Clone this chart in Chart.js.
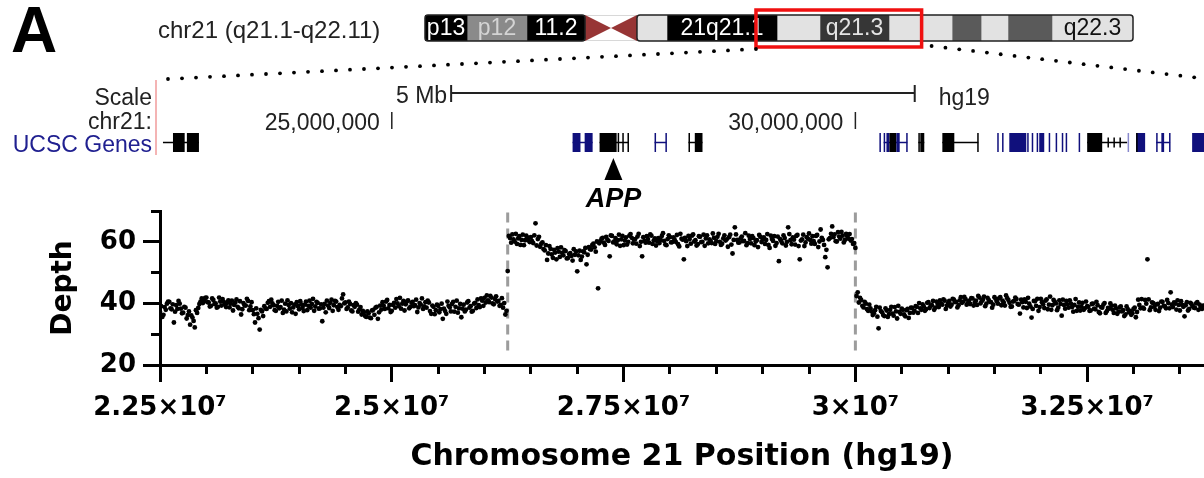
<!DOCTYPE html>
<html>
<head>
<meta charset="utf-8">
<script src="https://cdn.jsdelivr.net/npm/chart.js@4.4.1/dist/chart.umd.min.js"></script>
<style>
  html, body { margin: 0; padding: 0; background: #fff; }
  #wrap { position: relative; width: 1204px; height: 478px; overflow: hidden; background: #fff; }
  #depthChart, #ideoChart { position: absolute; left: 0; top: 0; }
  #ideoChart { pointer-events: none; }
</style>
</head>
<body>
<div id="wrap">
  <canvas id="depthChart" width="1204" height="478"></canvas>
  <canvas id="ideoChart" width="1204" height="90"></canvas>
</div>
<script>
// ==============================
// DATA
// ==============================
// read depth per window; two interleaved window sets, 25 kb apart each
const binStart = 22500000;
const binSize = 25000;
const binOffset = 12500; // second set sits half a window later

// 22.5 - 26.25 Mb (normal copy number)
const depthLeft = [
  37.2, 35.6, 38.8, 39.9, 40.5, 38.1, 33.8, 39.4, 40.8, 38.3,
  37.0, 38.6, 36.2, 33.1, 35.4, 32.2, 36.9, 39.8, 41.6, 40.7,
  41.9, 40.3, 39.2, 41.1, 40.0, 38.9, 40.6, 41.4, 39.6, 40.2,
  38.7, 40.9, 39.5, 41.3, 38.4, 36.4, 40.1, 39.3, 40.8, 39.0,
  37.8, 33.8, 36.6, 31.5, 37.4, 39.1, 38.2, 40.7, 41.2, 39.4,
  37.6, 40.5, 38.8, 36.9, 39.9, 41.0, 38.3, 37.1, 39.6, 40.4,
  38.1, 39.7, 37.5, 40.6, 39.2, 38.6, 41.5, 39.0, 40.2, 38.4,
  34.2, 39.8, 40.9, 38.5, 41.2, 39.4, 40.6, 37.9, 39.1, 42.9,
  40.3, 38.7, 39.8, 37.4, 38.9, 39.6, 38.0, 36.4, 37.1, 35.6,
  36.8, 35.2, 37.9, 38.6, 35.0, 39.3, 40.4, 38.2, 41.1, 39.5,
  37.6, 40.2, 41.4, 39.1, 38.3, 40.8, 39.7, 41.0, 38.9, 40.5,
  39.4, 37.2, 40.1, 41.6, 39.0, 38.6, 40.3, 36.6, 38.9, 37.8,
  39.2, 38.1, 35.0, 37.5, 40.6, 38.7, 39.8, 37.3, 40.9, 38.4,
  35.5, 39.6, 38.0, 40.7, 39.1, 37.6, 40.2, 41.3, 38.8, 40.9,
  41.8, 42.6, 40.4, 41.9, 39.7, 42.3, 40.8, 39.5, 38.6, 36.4
];
const depthLeftB = [
  39.1, 36.3, 37.9, 40.6, 38.4, 39.7, 37.3, 38.2, 39.9, 36.8,
  38.9, 35.1, 37.4, 36.1, 34.3, 37.8, 38.5, 40.6, 40.1, 41.8,
  40.4, 39.0, 41.6, 39.8, 38.6, 41.9, 39.3, 40.5, 38.8, 41.0,
  39.9, 37.7, 40.3, 38.9, 40.7, 38.1, 39.4, 41.5, 37.8, 40.4,
  36.5, 38.4, 35.2, 37.9, 35.9, 38.3, 40.2, 38.9, 40.0, 37.8,
  39.2, 38.4, 40.9, 38.0, 37.4, 39.5, 40.1, 38.7, 36.6, 39.1,
  40.7, 38.5, 39.6, 37.8, 40.9, 39.8, 37.6, 40.5, 38.3, 39.7,
  38.6, 37.1, 39.3, 40.2, 37.6, 40.8, 38.8, 39.5, 41.6, 40.0,
  38.2, 40.6, 37.7, 39.4, 40.1, 37.3, 38.8, 37.6, 35.9, 37.4,
  35.4, 37.7, 36.3, 38.9, 37.1, 38.0, 39.2, 40.6, 38.4, 37.2,
  39.5, 38.6, 40.0, 41.8, 39.9, 37.7, 40.6, 38.4, 40.2, 39.1,
  41.2, 38.7, 39.6, 38.2, 40.4, 40.9, 37.5, 39.3, 36.5, 39.6,
  37.1, 39.9, 38.3, 36.6, 39.2, 37.4, 40.5, 38.9, 37.0, 39.8,
  38.3, 37.4, 40.3, 38.6, 37.3, 39.9, 38.5, 39.4, 41.6, 39.2,
  40.3, 41.0, 42.4, 40.0, 41.4, 40.6, 39.2, 41.7, 40.1, 37.6
];

// 26.25 - 30.0 Mb (duplicated segment incl. APP)
const depthDup = [
  50.5, 61.2, 62.4, 60.1, 59.3, 61.8, 60.6, 58.9, 62.0, 60.4,
  61.5, 59.6, 66.0, 60.9, 58.4, 59.8, 57.2, 54.1, 58.6, 55.9,
  57.4, 54.3, 56.8, 58.2, 55.6, 57.0, 54.7, 56.3, 53.9, 55.8,
  50.4, 57.1, 55.2, 56.6, 52.7, 58.3, 57.5, 59.4, 56.8, 44.9,
  60.2, 61.3, 59.0, 60.7, 55.3, 61.9, 60.1, 59.2, 62.3, 60.8,
  58.9, 61.4, 60.0, 62.5, 59.5, 60.9, 61.7, 58.6, 55.3, 60.3,
  61.8, 59.7, 62.0, 60.4, 58.8, 61.2, 60.6, 62.8, 59.1, 60.9,
  61.5, 59.9, 60.7, 62.2, 58.5, 61.0, 54.3, 60.2, 61.9, 59.4,
  62.4, 60.5, 59.2, 61.6, 60.0, 58.7, 62.1, 60.8, 59.6, 61.3,
  60.2, 62.6, 59.0, 61.1, 60.4, 58.4, 62.3, 56.2, 64.7, 60.6,
  59.8, 61.7, 60.3, 58.9, 62.0, 59.5, 61.2, 60.1, 58.3, 61.6,
  60.7, 59.3, 62.5, 58.0, 60.9, 61.8, 59.6, 53.7, 60.3, 62.1,
  58.8, 64.7, 60.5, 61.4, 59.1, 62.2, 54.3, 60.8, 58.6, 61.5,
  62.7, 59.4, 60.2, 61.9, 58.3, 64.0, 60.6, 55.0, 51.7, 61.2,
  65.0, 62.4, 60.1, 61.7, 63.2, 59.8, 62.6, 61.0, 60.4, 59.3,
  58.0
];
const depthDupB = [
  61.9, 59.7, 60.8, 62.6, 61.1, 59.0, 62.3, 60.5, 61.4, 59.9,
  60.2, 62.1, 58.8, 61.6, 59.4, 57.6, 58.9, 56.2, 57.7, 54.8,
  56.5, 57.9, 55.1, 56.4, 57.3, 54.6, 56.0, 55.4, 57.6, 56.9,
  55.6, 54.1, 56.9, 58.0, 55.8, 57.6, 59.0, 58.2, 60.1, 59.5,
  61.0, 59.7, 61.6, 60.3, 62.1, 59.8, 61.2, 60.5, 58.7, 61.9,
  60.4, 59.1, 62.0, 61.3, 60.7, 59.4, 62.6, 60.0, 61.5, 59.7,
  60.9, 62.4, 59.3, 61.1, 60.2, 59.6, 61.9, 60.3, 58.9, 62.1,
  59.8, 61.4, 60.0, 59.2, 62.6, 60.7, 61.3, 58.6, 60.9, 62.0,
  60.1, 58.8, 61.8, 59.9, 62.3, 61.1, 59.5, 60.4, 62.7, 59.3,
  61.6, 60.0, 59.4, 62.1, 60.8, 61.5, 59.1, 60.6, 62.4, 59.7,
  61.1, 60.2, 62.8, 59.6, 60.9, 61.8, 58.9, 60.5, 62.2, 59.9,
  61.4, 60.6, 59.0, 62.0, 60.3, 58.7, 61.7, 60.9, 59.5, 61.2,
  60.0, 62.5, 59.2, 60.7, 61.9, 58.6, 60.4, 62.3, 59.8, 61.0,
  60.6, 61.8, 59.3, 62.2, 60.1, 61.3, 59.0, 57.4, 60.8, 62.6,
  61.5, 60.2, 63.1, 61.0, 62.0, 60.6, 61.8, 62.5, 60.9, 59.6
];

// 30.0 - 33.75 Mb (normal copy number)
const depthRight = [
  43.6, 41.8, 39.2, 40.5, 38.1, 39.6, 37.4, 36.8, 38.9, 31.9,
  37.5, 36.2, 38.4, 35.6, 37.9, 36.7, 38.8, 35.1, 37.2, 38.3,
  36.4, 37.8, 35.3, 38.6, 37.0, 39.1, 36.9, 38.4, 39.7, 37.6,
  40.2, 38.5, 39.4, 37.9, 40.6, 38.8, 39.9, 41.3, 38.2, 40.1,
  39.0, 41.5, 40.4, 38.7, 41.0, 40.2, 42.1, 39.6, 40.8, 41.7,
  39.3, 40.9, 42.4, 40.0, 41.2, 39.1, 41.8, 40.5, 38.6, 42.0,
  40.7, 41.6, 39.4, 40.3, 42.6, 41.1, 38.9, 40.6, 41.9, 39.8,
  36.7, 40.4, 41.3, 38.5, 39.9, 35.4, 40.8, 39.2, 37.6, 41.5,
  39.7, 40.9, 38.1, 42.2, 39.4, 40.6, 37.8, 41.0, 36.0, 39.5,
  40.8, 38.6, 39.9, 37.3, 41.4, 38.9, 37.7, 40.2, 38.4, 39.1,
  37.6, 39.8, 38.3, 40.5, 37.2, 38.8, 39.6, 36.9, 38.5, 40.0,
  37.9, 39.3, 36.6, 38.7, 37.4, 35.9, 39.0, 37.1, 36.3, 38.2,
  35.5, 41.2, 38.4, 38.6, 41.1, 54.3, 37.8, 40.3, 38.9, 39.7,
  37.5, 40.6, 39.2, 38.4, 40.1, 43.6, 38.8, 39.9, 41.0, 37.7,
  39.5, 35.8, 40.4, 38.2, 39.8, 38.6, 40.0, 37.9, 38.7, 39.3
];
const depthRightB = [
  42.4, 40.3, 41.1, 38.7, 39.9, 37.6, 38.4, 36.2, 37.8, 35.7,
  38.6, 37.1, 35.9, 37.7, 36.5, 38.9, 36.0, 37.4, 39.2, 36.6,
  37.9, 35.8, 38.2, 36.9, 38.5, 37.6, 38.9, 40.1, 37.9, 39.0,
  38.1, 40.4, 39.2, 40.8, 38.6, 39.8, 41.0, 39.6, 40.9, 39.3,
  40.8, 39.6, 41.2, 40.5, 39.4, 42.0, 40.6, 41.4, 40.1, 39.8,
  41.6, 40.3, 39.5, 41.9, 40.7, 42.2, 39.9, 41.1, 40.4, 39.6,
  41.5, 39.9, 42.0, 40.9, 39.3, 41.7, 40.2, 39.0, 40.8, 41.4,
  39.6, 41.2, 38.7, 40.5, 41.8, 39.0, 38.2, 40.7, 41.5, 38.8,
  40.4, 38.5, 41.3, 39.6, 37.9, 41.1, 40.0, 38.6, 39.8, 41.2,
  38.3, 39.7, 41.0, 38.8, 39.5, 37.6, 40.3, 39.0, 37.9, 40.6,
  38.9, 37.7, 39.9, 38.1, 39.4, 36.8, 38.6, 40.1, 37.5, 38.3,
  39.2, 36.9, 38.4, 37.3, 39.0, 37.8, 36.4, 38.1, 37.6, 36.8,
  38.6, 37.2, 39.5, 41.4, 38.3, 39.9, 41.3, 38.7, 40.1, 37.9,
  39.8, 38.6, 40.5, 39.1, 41.1, 38.4, 39.6, 40.3, 38.0, 39.5,
  40.7, 38.9, 39.4, 37.7, 40.2, 39.1, 38.5, 40.4, 39.6, 38.2
];

// breakpoints of the duplication (dashed lines)
const dupBreaks = [26250000, 30000000];

const xMin = 22500000;
const xMax = 33760000;
const xMajorStep = 2500000;
const xMinorStep = 500000;
const yMin = 20;
const yMax = 70;
const yMajorStep = 20;
const yMinorStep = 10;

// chr21 ideogram bands (Mb)
const bandStart = [0, 2.86, 6.93, 10.88, 14.41, 16.45, 23.93, 26.85, 31.54, 35.83, 37.8, 39.63, 42.62];
const bandEnd = [2.86, 6.93, 10.88, 14.41, 16.45, 23.93, 26.85, 31.54, 35.83, 37.8, 39.63, 42.62, 48.13];
const bandName = ["p13", "p12", "11.2", "", "", "21q21.1", "", "q21.3", "", "", "", "", "q22.3"];
const bandColor = ["#000", "#8a8a8a", "#000", "acen", "#e2e2e2", "#000", "#e2e2e2", "#363636", "#e2e2e2", "#5a5a5a", "#e2e2e2", "#5a5a5a", "#e2e2e2"];
const bandText = ["#fff", "#d4d4d4", "#fff", "", "", "#fff", "", "#e4e4e4", "", "", "", "", "#111"];
const chromEnd = 48.13;

// UCSC genes track (Mb): intron spans, exons, strand marks
const geneSpans = [
  [22.532, 22.920, "k"], [26.950, 27.166, "b"], [27.241, 27.554, "k"],
  [27.834, 27.963, "b"], [28.200, 28.351, "k"], [30.305, 30.560, "b"],
  [30.679, 30.743, "k"], [30.938, 31.326, "k"], [32.500, 32.931, "k"],
  [33.244, 33.394, "b"]
];
const geneExons = [
  [22.640, 22.766, "k"], [22.790, 22.920, "k"],
  [26.950, 27.035, "b"], [27.080, 27.166, "b"],
  [27.241, 27.425, "k"], [27.436, 27.446, "k"], [27.486, 27.496, "k"], [27.542, 27.554, "k"],
  [27.834, 27.846, "b"], [27.951, 27.963, "b"],
  [28.200, 28.212, "k"], [28.268, 28.351, "k"],
  [30.259, 30.270, "b"], [30.305, 30.316, "b"], [30.335, 30.367, "b"], [30.367, 30.442, "k"],
  [30.442, 30.478, "b"], [30.548, 30.560, "b"],
  [30.679, 30.690, "k"], [30.700, 30.743, "k"],
  [30.938, 31.067, "k"], [31.314, 31.326, "k"],
  [31.530, 31.541, "b"], [31.582, 31.593, "b"], [31.660, 31.843, "b"], [31.853, 31.864, "b"],
  [31.902, 31.913, "b"], [31.955, 31.966, "b"], [31.983, 32.037, "b"], [32.085, 32.096, "b"],
  [32.160, 32.171, "b"], [32.226, 32.237, "b"], [32.268, 32.279, "b"], [32.408, 32.419, "b"],
  [32.500, 32.662, "k"], [32.936, 32.947, "l"],
  [33.028, 33.125, "b"], [33.028, 33.040, "k"],
  [33.244, 33.255, "b"], [33.300, 33.330, "b"], [33.383, 33.394, "b"],
  [33.632, 33.800, "b"]
];
const geneMarks = [32.727, 32.791, 32.856];
const geneColors = { k: "#000", b: "#10107c", l: "#8888cc" };
const appPos = 27.39;

const FONT = '"Liberation Sans", Arial, Helvetica, sans-serif';
const PLOT_FONT = '"DejaVu Sans", Verdana, sans-serif';

// ==============================
// HEADER (browser tracks) on the depth chart
// ==============================
const browserTracks = {
  id: "browserTracks",
  afterDraw(chart) {
    const ctx = chart.ctx;
    const sx = chart.scales.x;
    const px = (mb) => sx.getPixelForValue(mb * 1e6);

    ctx.save();
    ctx.fillStyle = "#000";
    ctx.textBaseline = "alphabetic";

    // panel letter + region label
    ctx.font = "bold 64px " + FONT;
    ctx.textAlign = "left";
    ctx.fillText("A", 11, 52);
    ctx.font = "24px " + FONT;
    ctx.fillStyle = "#222";
    ctx.fillText("chr21 (q21.1-q22.11)", 158, 38);

    // track labels
    ctx.font = "23px " + FONT;
    ctx.textAlign = "right";
    ctx.fillText("Scale", 152, 105);
    ctx.fillText("chr21:", 152, 129);
    ctx.fillStyle = "#202090";
    ctx.fillText("UCSC Genes", 152, 152);

    ctx.strokeStyle = "#f4b4b4";
    ctx.lineWidth = 2;
    ctx.beginPath();
    ctx.moveTo(156, 80);
    ctx.lineTo(156, 155);
    ctx.stroke();

    // scale bar 5 Mb
    const b0 = px(25.64), b1 = px(30.64);
    ctx.strokeStyle = "#222";
    ctx.lineWidth = 2;
    ctx.beginPath();
    ctx.moveTo(b0, 93); ctx.lineTo(b1, 93);
    ctx.moveTo(b0, 85); ctx.lineTo(b0, 102);
    ctx.moveTo(b1, 85); ctx.lineTo(b1, 102);
    ctx.stroke();
    ctx.fillStyle = "#222";
    ctx.fillText("5 Mb", b0 - 4, 103);
    ctx.textAlign = "left";
    ctx.fillText("hg19", b1 + 24, 105);

    // chr21 coordinates
    ctx.textAlign = "right";
    [25, 30].forEach((mb) => {
      const p = px(mb);
      ctx.fillText((mb * 1e6).toLocaleString("en-US"), p - 12, 130);
      ctx.lineWidth = 1.5;
      ctx.beginPath();
      ctx.moveTo(p, 112); ctx.lineTo(p, 129);
      ctx.stroke();
    });

    // genes
    const gTop = 133, gH = 19, gMid = gTop + gH / 2;
    geneSpans.forEach(([s, e, c]) => {
      ctx.strokeStyle = geneColors[c];
      ctx.lineWidth = 1.5;
      ctx.beginPath();
      ctx.moveTo(px(s), gMid); ctx.lineTo(px(e), gMid);
      ctx.stroke();
    });
    geneExons.forEach(([s, e, c]) => {
      const x0 = px(s), x1 = px(e);
      ctx.fillStyle = geneColors[c];
      ctx.fillRect(x0, gTop, Math.max(1.5, x1 - x0), gH);
    });
    ctx.strokeStyle = "#000";
    ctx.lineWidth = 1.5;
    geneMarks.forEach((m) => {
      ctx.beginPath();
      ctx.moveTo(px(m), gMid - 5); ctx.lineTo(px(m), gMid + 5);
      ctx.stroke();
    });

    // APP arrow
    const ax = px(appPos);
    ctx.fillStyle = "#000";
    ctx.beginPath();
    ctx.moveTo(ax, 158);
    ctx.lineTo(ax + 9, 180);
    ctx.lineTo(ax - 9, 180);
    ctx.closePath();
    ctx.fill();
    ctx.font = "italic bold 27px " + FONT;
    ctx.textAlign = "center";
    ctx.fillText("APP", ax, 207);

    ctx.restore();
  }
};

// ==============================
// DEPTH SCATTER
// ==============================
const depthA = depthLeft.concat(depthDup, depthRight);
const depthB = depthLeftB.concat(depthDupB, depthRightB);
const depthPoints = depthA.map((d, i) => ({ x: binStart + i * binSize, y: d }))
  .concat(depthB.map((d, i) => ({ x: binStart + binOffset + i * binSize, y: d })));

const isMultiple = (v, step) => Math.abs(v / step - Math.round(v / step)) < 1e-6;

// regular ticks on multiples of step between the scale bounds
const stepTicks = (step) => (scale) => {
  const ticks = [];
  for (let v = Math.ceil(scale.min / step) * step; v <= scale.max + 1e-9; v += step) {
    ticks.push({ value: v });
  }
  scale.ticks = ticks;
};

const tickFont = { family: PLOT_FONT, size: 26, weight: "bold" };

const depthChart = new Chart(document.getElementById("depthChart"), {
  type: "scatter",
  data: {
    datasets: [
      {
        data: depthPoints,
        pointRadius: 2.4,
        pointBackgroundColor: "#000",
        pointBorderWidth: 0,
        order: 0,
      },
      ...dupBreaks.map((b) => ({
        type: "line",
        data: [{ x: b, y: 69.5 }, { x: b, y: 24 }],
        borderColor: "#9c9c9c",
        borderWidth: 3,
        borderDash: [10, 6],
        pointRadius: 0,
        order: 1,
      })),
    ],
  },
  options: {
    responsive: false,
    animation: false,
    devicePixelRatio: 1,
    layout: { autoPadding: false, padding: { top: 211, left: 0, right: 0, bottom: 0 } },
    plugins: { legend: { display: false }, tooltip: { enabled: false } },
    scales: {
      x: {
        type: "linear",
        min: xMin,
        max: xMax,
        afterBuildTicks: stepTicks(xMinorStep),
        afterFit: (s) => { s.height = 113; },
        border: { color: "#000", width: 3 },
        grid: { drawOnChartArea: false, tickLength: 9, tickWidth: 3, tickColor: "#000" },
        ticks: {
          autoSkip: false,
          maxRotation: 0,
          padding: 19,
          color: "#000",
          font: tickFont,
          callback: (v) => isMultiple(v, xMajorStep) ? `${+(v / 1e7).toFixed(2)}×10⁷` : "",
        },
        title: {
          display: true,
          text: "Chromosome 21 Position (hg19)",
          color: "#000",
          font: { family: PLOT_FONT, size: 30, weight: "bold" },
          padding: { top: 0, bottom: 3 },
        },
      },
      xMajor: {
        type: "linear",
        axis: "x",
        position: { y: yMin },
        min: xMin,
        max: xMax,
        afterBuildTicks: stepTicks(xMajorStep),
        border: { display: false },
        grid: { drawOnChartArea: false, tickLength: 17, tickWidth: 3, tickColor: "#000" },
        ticks: { autoSkip: false, padding: 0, callback: () => "" },
      },
      y: {
        type: "linear",
        min: yMin,
        max: yMax,
        afterBuildTicks: stepTicks(yMinorStep),
        afterFit: (s) => { s.width = 160; },
        border: { color: "#000", width: 3 },
        grid: { drawOnChartArea: false, tickLength: 9, tickWidth: 3, tickColor: "#000" },
        ticks: {
          autoSkip: false,
          padding: 15,
          color: "#000",
          font: tickFont,
          callback: (v) => isMultiple(v, yMajorStep) ? String(v) : "",
        },
        title: {
          display: true,
          text: "Depth",
          color: "#000",
          font: { family: PLOT_FONT, size: 28, weight: "bold" },
          padding: { top: 47, bottom: 0 },
        },
      },
      yMajor: {
        type: "linear",
        axis: "y",
        position: { x: xMin },
        min: yMin,
        max: yMax,
        afterBuildTicks: stepTicks(yMajorStep),
        border: { display: false },
        grid: { drawOnChartArea: false, tickLength: 17, tickWidth: 3, tickColor: "#000" },
        ticks: { autoSkip: false, padding: 0, callback: () => "" },
      },
    },
  },
  plugins: [browserTracks],
});

// ==============================
// CHR21 IDEOGRAM
// ==============================
function dottedLine(ctx, x1, y1, x2, y2, gap) {
  const n = Math.max(1, Math.round(Math.hypot(x2 - x1, y2 - y1) / gap));
  for (let i = 0; i <= n; i++) {
    const t = i / n;
    ctx.beginPath();
    ctx.arc(x1 + (x2 - x1) * t, y1 + (y2 - y1) * t, 1.9, 0, Math.PI * 2);
    ctx.fill();
  }
}

const ideoDecor = {
  id: "ideoDecor",
  afterDatasetsDraw(chart) {
    const ctx = chart.ctx;
    const sx = chart.scales.x;
    const px = (mb) => sx.getPixelForValue(mb * 1e6);
    const { top, bottom } = chart.chartArea;
    const mid = (top + bottom) / 2;

    ctx.save();

    // centromere bow-tie
    const c0 = px(bandStart[3]), c1 = px(bandEnd[3]), cm = (c0 + c1) / 2;
    ctx.strokeStyle = "#d8d8d8";
    ctx.lineWidth = 1;
    ctx.beginPath();
    ctx.moveTo(c0, top + 0.5); ctx.lineTo(c1, top + 0.5);
    ctx.moveTo(c0, bottom - 0.5); ctx.lineTo(c1, bottom - 0.5);
    ctx.stroke();
    ctx.fillStyle = "#973535";
    ctx.beginPath();
    ctx.moveTo(c0, top); ctx.lineTo(cm, mid); ctx.lineTo(c0, bottom); ctx.closePath();
    ctx.moveTo(c1, top); ctx.lineTo(cm, mid); ctx.lineTo(c1, bottom); ctx.closePath();
    ctx.fill();

    // arm outlines
    ctx.strokeStyle = "#222";
    ctx.lineWidth = 1.5;
    ctx.beginPath();
    ctx.roundRect(px(0), top, c0 - px(0), bottom - top, 3);
    ctx.roundRect(c1, top, px(chromEnd) - c1, bottom - top, 3);
    ctx.stroke();

    // band labels
    ctx.font = "23px " + FONT;
    ctx.textAlign = "center";
    ctx.textBaseline = "middle";
    bandName.forEach((name, i) => {
      if (!name) return;
      const x0 = px(bandStart[i]), x1 = px(bandEnd[i]);
      ctx.save();
      ctx.beginPath();
      ctx.rect(x0, top, x1 - x0, bottom - top);
      ctx.clip();
      ctx.fillStyle = bandText[i];
      ctx.fillText(name, (x0 + x1) / 2, mid + 1);
      ctx.restore();
    });

    // zoomed region box + connectors to the depth plot
    const r0 = px(xMin / 1e6), r1 = px(xMax / 1e6);
    ctx.strokeStyle = "#f01010";
    ctx.lineWidth = 3.5;
    ctx.strokeRect(r0, 10, r1 - r0, 37);

    const dx = depthChart.scales.x;
    ctx.fillStyle = "#000";
    dottedLine(ctx, r0, 49, dx.getPixelForValue(xMin) + 8, 79, 14);
    dottedLine(ctx, r1 + 10, 46, dx.getPixelForValue(xMax) + 4, 79, 14);

    ctx.restore();
  }
};

new Chart(document.getElementById("ideoChart"), {
  type: "bar",
  data: {
    labels: ["chr21"],
    datasets: bandStart.map((s, i) => ({
      data: [[s * 1e6, bandEnd[i] * 1e6]],
      backgroundColor: bandColor[i] === "acen" ? "rgba(0,0,0,0)" : bandColor[i],
      borderWidth: 0,
      grouped: false,
      barPercentage: 1,
      categoryPercentage: 1,
    })),
  },
  options: {
    indexAxis: "y",
    responsive: false,
    animation: false,
    devicePixelRatio: 1,
    layout: { padding: { left: 425, right: 71, top: 15, bottom: 49 } },
    plugins: { legend: { display: false }, tooltip: { enabled: false } },
    scales: {
      x: { type: "linear", min: 0, max: chromEnd * 1e6, display: false },
      y: { display: false },
    },
  },
  plugins: [ideoDecor],
});
</script>
</body>
</html>
